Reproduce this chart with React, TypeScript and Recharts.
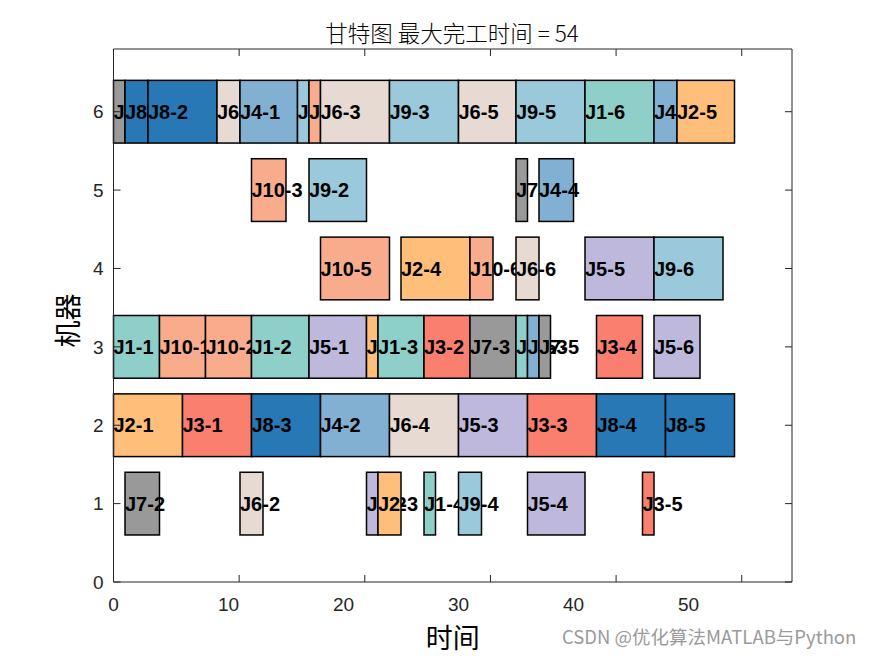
import React from 'react';
import { ComposedChart, XAxis, YAxis, ReferenceArea, Scatter, Label } from 'recharts';

// colours per job J1..J10
const jobColors = ['#8ECFC9', '#FFBE7A', '#FA7F6F', '#82B0D2', '#BEB8DC', '#E7DAD2', '#999999', '#2878B5', '#9AC9DB', '#F8AC8C'];

// operations, in drawing (start-time) order
const taskJob = [1, 2, 7, 7, 8, 8, 10, 3, 10, 6, 4, 6, 1, 8, 10, 9, 5, 9, 10, 4, 6, 10, 2, 5, 1, 2, 6, 9, 2, 1, 3, 5, 6, 9, 7, 10, 1, 6, 7, 9, 3, 4, 5, 4, 7, 1, 5, 3, 8, 3, 4, 5, 9, 8, 2];
const taskOp = [1, 1, 1, 2, 1, 2, 1, 1, 2, 1, 1, 2, 2, 3, 3, 1, 1, 2, 4, 2, 3, 5, 2, 2, 3, 3, 4, 3, 4, 4, 2, 3, 5, 4, 3, 6, 5, 6, 4, 5, 3, 3, 4, 4, 5, 6, 5, 4, 4, 5, 5, 6, 6, 5, 5];
const taskMachine = [3, 2, 6, 1, 6, 6, 3, 2, 3, 6, 6, 1, 3, 2, 5, 6, 3, 5, 6, 2, 6, 4, 3, 1, 3, 1, 2, 6, 4, 1, 3, 2, 6, 1, 3, 4, 3, 4, 5, 6, 2, 3, 1, 5, 3, 6, 4, 3, 2, 1, 6, 3, 4, 2, 6];
const taskStart = [0, 0, 0, 1, 1, 3, 4, 6, 8, 9, 11, 11, 12, 12, 12, 16, 17, 17, 17, 18, 18, 18, 22, 22, 23, 23, 24, 24, 25, 27, 27, 30, 30, 30, 31, 31, 35, 35, 35, 35, 36, 36, 36, 37, 37, 41, 41, 42, 42, 46, 47, 47, 47, 48, 49];
const taskEnd = [4, 6, 1, 4, 3, 9, 8, 12, 12, 11, 16, 13, 17, 18, 15, 17, 22, 22, 18, 24, 24, 24, 23, 23, 27, 25, 30, 30, 31, 28, 31, 36, 35, 32, 35, 33, 36, 37, 36, 41, 42, 37, 41, 40, 38, 47, 47, 46, 48, 47, 49, 51, 53, 54, 54];

const xTicks = [0, 10, 20, 30, 40, 50];
const yTicks = [0, 1, 2, 3, 4, 5, 6];
const xDomain = [0, 59];
const yDomain = [0, 6.8];
const barHalf = 0.4;

const titleText = '甘特图 最大完工时间 = 54';
const xLabel = '时间';
const yLabel = '机器';
const watermark = 'CSDN @优化算法MATLAB与Python';

const tasks = taskJob.map((j, i) => ({
  label: `J${j}-${taskOp[i]}`,
  job: j,
  machine: taskMachine[i],
  start: taskStart[i],
  end: taskEnd[i],
}));

const axisColor = '#262626';
const tickStyle = { fill: axisColor, fontSize: 19, fontFamily: 'Liberation Sans, Arial, sans-serif' };
const emptyTick = () => '';

export default function App() {
  return (
    <div style={{ position: 'absolute', left: 0, top: 0, width: 875, height: 656, background: '#fff' }}>
      <div
        style={{
          position: 'absolute',
          left: 152,
          width: 600,
          top: 18,
          lineHeight: '28px',
          textAlign: 'center',
          fontSize: 22.5,
          fontFamily: "'Noto Sans CJK SC', sans-serif",
          fontWeight: 300,
          color: '#000',
        }}
      >
        {titleText}
      </div>
      <ComposedChart width={875} height={656} data={tasks} margin={{ top: 49, right: 83, bottom: 0, left: 22.5 }}>
        <XAxis
          xAxisId={0}
          type="number"
          dataKey="start"
          domain={xDomain}
          ticks={xTicks}
          interval={0}
          height={74}
          tickLine={false}
          axisLine={false}
          tickSize={0}
          tickMargin={16}
          tick={tickStyle}
          allowDataOverflow
        >
          <Label value={xLabel} position="insideBottom" offset={8} fill="#000" fontSize={27} fontFamily="'Noto Sans CJK SC', sans-serif" />
        </XAxis>
        <XAxis xAxisId="bm" type="number" domain={xDomain} ticks={xTicks} interval={0} orientation="bottom" mirror height={1} tickFormatter={emptyTick} tickSize={7} stroke={axisColor} allowDataOverflow />
        <XAxis xAxisId="tm" type="number" domain={xDomain} ticks={xTicks} interval={0} orientation="top" mirror height={1} tickFormatter={emptyTick} tickSize={7} stroke={axisColor} allowDataOverflow />
        <YAxis
          yAxisId={0}
          type="number"
          dataKey="machine"
          domain={yDomain}
          ticks={yTicks}
          interval={0}
          width={91}
          tickLine={false}
          axisLine={false}
          tickSize={0}
          tickMargin={10}
          tick={tickStyle}
          allowDataOverflow
        >
          <Label value={yLabel} position="center" angle={-90} dy={5} fill="#000" fontSize={27} fontFamily="'Noto Sans CJK SC', sans-serif" />
        </YAxis>
        <YAxis yAxisId="lm" type="number" domain={yDomain} ticks={yTicks} interval={0} orientation="left" mirror width={1} tickFormatter={emptyTick} tickSize={7} stroke={axisColor} allowDataOverflow />
        <YAxis yAxisId="rm" type="number" domain={yDomain} ticks={yTicks} interval={0} orientation="right" mirror width={1} tickFormatter={emptyTick} tickSize={7} stroke={axisColor} allowDataOverflow />
        <Scatter xAxisId={0} yAxisId={0} dataKey="machine" isAnimationActive={false} shape={() => <g />} legendType="none" />
        {tasks.map((t, i) => (
          <ReferenceArea
            key={i}
            xAxisId={0}
            yAxisId={0}
            x1={t.start}
            x2={t.end}
            y1={t.machine - barHalf}
            y2={t.machine + barHalf}
            ifOverflow="visible"
            shape={(p: any) => (
              <g>
                <rect
                  x={p.x}
                  y={p.y}
                  width={p.width}
                  height={p.height}
                  fill={jobColors[t.job - 1]}
                  stroke="#000"
                  strokeWidth={1.5}
                />
                <text
                  x={p.x}
                  y={p.y + p.height / 2}
                  dy="0.355em"
                  fill="#000"
                  fontSize={20}
                  fontWeight={700}
                  fontFamily="Liberation Sans, Arial, sans-serif"
                >
                  {t.label}
                </text>
              </g>
            )}
          />
        ))}
      </ComposedChart>
      <div
        style={{
          position: 'absolute',
          left: 562,
          top: 625,
          lineHeight: '22px',
          fontSize: 18.5,
          color: '#9a9a9a',
          fontFamily: "'Noto Sans CJK SC', sans-serif",
          whiteSpace: 'nowrap',
        }}
      >
        {watermark}
      </div>
    </div>
  );
}
